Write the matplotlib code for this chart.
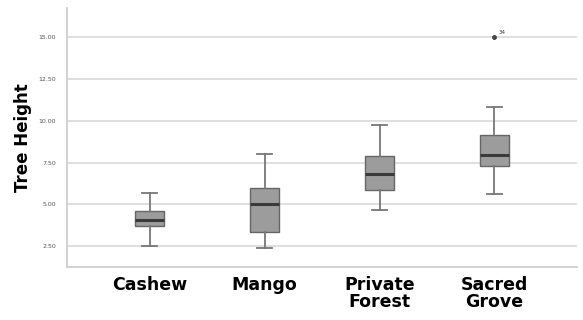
import matplotlib

matplotlib.use("Agg")
import matplotlib.pyplot as plt

groups = ["Cashew", "Mango", "Private\nForest", "Sacred\nGrove"]
whislo = [2.52, 2.42, 4.65, 5.65]
q1 = [3.71, 3.34, 5.89, 7.30]
med = [4.06, 5.05, 6.81, 7.98]
q3 = [4.59, 6.01, 7.90, 9.14]
whishi = [5.69, 8.02, 9.78, 10.83]
fliers = [[], [], [], [15.0]]
flier_ids = [[], [], [], ["34"]]
yticks = [2.5, 5.0, 7.5, 10.0, 12.5, 15.0]

stats = [
    dict(whislo=a, q1=b, med=c, q3=d, whishi=e, fliers=f, label=g)
    for a, b, c, d, e, f, g in zip(whislo, q1, med, q3, whishi, fliers, groups)
]

fig = plt.figure(figsize=(5.83, 3.2), dpi=100)
ax = fig.add_axes([0.115, 0.165, 0.875, 0.81])

for y in yticks:
    ax.axhline(y, color="#dcdcdc", lw=1.3, zorder=0)

ax.bxp(
    stats,
    positions=range(len(groups)),
    widths=0.25,
    patch_artist=True,
    boxprops=dict(facecolor="#9c9c9c", edgecolor="#666666", lw=1.0),
    medianprops=dict(color="#3a3a3a", lw=2.2),
    whiskerprops=dict(color="#777777", lw=1.3),
    capprops=dict(color="#777777", lw=1.3),
    capwidths=0.13,
    flierprops=dict(marker="o", markersize=2.5, markerfacecolor="#444444", markeredgecolor="#444444"),
)

for i, (vals, ids) in enumerate(zip(fliers, flier_ids)):
    for v, t in zip(vals, ids):
        ax.annotate(t, (i, v), xytext=(3, 2), textcoords="offset points", fontsize=4, color="#333333")

ax.set_xlim(-0.72, 3.72)
ax.set_ylim(1.25, 16.75)
ax.set_yticks(yticks)
ax.set_yticklabels([f"{v:.2f}" for v in yticks], fontsize=4.5, color="#555555")
ax.set_xticks(range(len(groups)))
ax.set_xticklabels(groups, fontsize=12.5, fontweight="bold", linespacing=0.95)
ax.tick_params(axis="both", length=0)
ax.tick_params(axis="y", pad=8)
ax.tick_params(axis="x", pad=6)
ax.set_ylabel("Tree Height", fontsize=12, fontweight="bold")
ax.yaxis.set_label_coords(-0.068, 0.5)

for s in ["left", "bottom"]:
    ax.spines[s].set_color("#cfcfcf")
    ax.spines[s].set_linewidth(1.3)
for s in ["top", "right"]:
    ax.spines[s].set_visible(False)

fig.savefig("out.png", dpi=100)
